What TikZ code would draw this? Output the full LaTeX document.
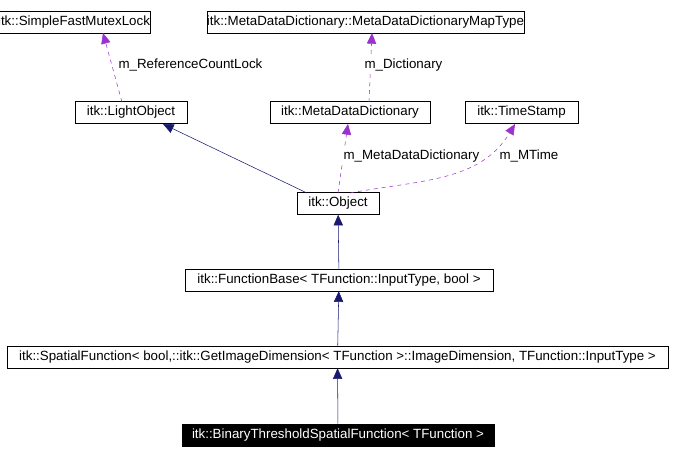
\documentclass[tikz,border=0pt]{standalone}
\usepackage{fontspec}
\setmainfont{Liberation Sans}
\usetikzlibrary{arrows.meta,positioning}
\definecolor{inhblue}{HTML}{191970}
\definecolor{usepurple}{HTML}{9A32CD}
\tikzset{
	cls/.style={draw=black,fill=white,inner sep=0pt,minimum height=16.5pt,font=\fontsize{10}{11}\selectfont},
	main/.style={cls,fill=black,text=white},
	inh/.style={draw=inhblue,-{Triangle[length=8pt,width=7pt,fill=inhblue]}},
	use/.style={draw=usepurple,dashed,-{Triangle[length=8pt,width=7pt,fill=usepurple]}},
	lbl/.style={font=\fontsize{10}{11}\selectfont,fill=white,inner sep=1pt}
}
\begin{document}
\begin{tikzpicture}[x=0.75pt,y=-0.75pt]
	\useasboundingbox (0,0) rectangle (676,455);

	% classes
	\node[cls,minimum width=94.5pt] (mutex) at (74,22.5) {itk::SimpleFastMutexLock};
	\node[cls,minimum width=238pt] (maptype) at (365.5,22.5) {itk::MetaDataDictionary::MetaDataDictionaryMapType};
	\node[cls,minimum width=84pt] (light) at (131,112.5) {itk::LightObject};
	\node[cls,minimum width=120pt] (dict) at (350,112.5) {itk::MetaDataDictionary};
	\node[cls,minimum width=85pt] (stamp) at (521.5,112.5) {itk::TimeStamp};
	\node[cls,minimum width=61.5pt] (object) at (338,203.5) {itk::Object};
	\node[cls,minimum width=231pt] (fbase) at (339,280) {itk::FunctionBase< TFunction::InputType, bool >};
	\node[cls,minimum width=496pt] (spatial) at (337.5,357) {itk::SpatialFunction< bool,::itk::GetImageDimension< TFunction >::ImageDimension, TFunction::InputType >};
	\node[main,minimum width=234pt] (binary) at (338,435) {itk::BinaryThresholdSpatialFunction< TFunction >};

	% anchor points
	\coordinate (objl) at (307,193);
	\coordinate (objm) at (338,193);
	\coordinate (objr) at (350,193);
	\coordinate (lightb) at (163,124);
	\coordinate (lightt) at (122,102);
	\coordinate (mutexb) at (103,33);
	\coordinate (dictt) at (369,102);
	\coordinate (dictb) at (348,124);
	\coordinate (mapb) at (372,33);
	\coordinate (stampb) at (515,124);

	% inheritance
	\draw[inh] (binary) -- (spatial);
	\draw[inh] (spatial) -- (fbase);
	\draw[inh] (fbase) -- (object);
	\draw[inh] (objl) -- (lightb);

	% members
	\draw[use] (lightt) -- (mutexb);
	\draw[use] (dictt) -- (mapb);
	\draw[use] (objm) -- (dictb);
	\draw[use] (objr) .. controls (420,180) and (480,182) .. (stampb);
	\node[lbl,anchor=west] at (117,65) {m\_ReferenceCountLock};
	\node[lbl,anchor=west] at (363,65) {m\_Dictionary};
	\node[lbl,anchor=west] at (342,156) {m\_MetaDataDictionary};
	\node[lbl,anchor=west] at (498,156) {m\_MTime};
\end{tikzpicture}
\end{document}
